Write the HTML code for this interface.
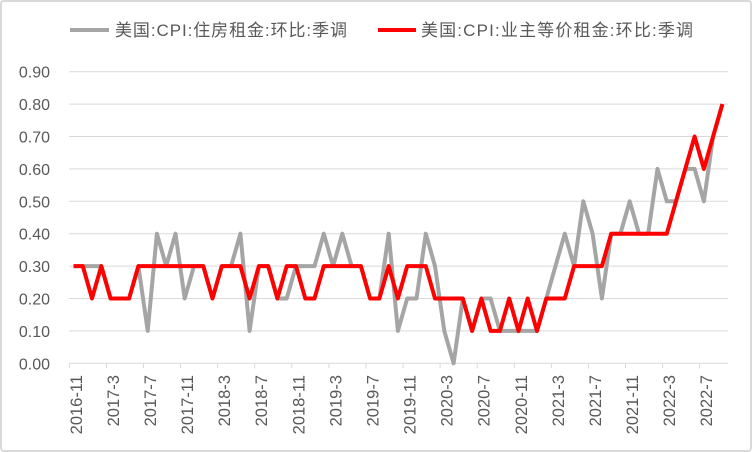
<!DOCTYPE html>
<html><head><meta charset="utf-8">
<style>
html,body{margin:0;padding:0;background:#fff;}
svg{display:block;font-family:"Liberation Sans","Noto Sans CJK SC",sans-serif;}
</style></head><body>
<svg id="c" width="752" height="452" viewBox="0 0 752 452" xmlns="http://www.w3.org/2000/svg">
<rect x="1" y="1" width="750" height="450" rx="3" fill="#fff" stroke="#d9d9d9" stroke-width="2"/>
<g id="grid"></g>
<g id="lab" fill="#595959" font-size="16"></g>
<line x1="70" y1="30" x2="109" y2="30" stroke="#a5a5a5" stroke-width="4"/>
<text x="115" y="36" font-size="17" fill="#595959" textLength="232" lengthAdjust="spacing">美国:CPI:住房租金:环比:季调</text>
<line x1="378" y1="30" x2="416" y2="30" stroke="#ff0000" stroke-width="4"/>
<text x="421" y="36" font-size="17" fill="#595959" textLength="272" lengthAdjust="spacing">美国:CPI:业主等价租金:环比:季调</text>
<polyline id="g" fill="none" stroke="#a5a5a5" stroke-width="4" stroke-linejoin="round"/>
<polyline id="r" fill="none" stroke="#ff0000" stroke-width="4" stroke-linejoin="round"/>
</svg>
<script>
var gray=[3,3,3,3,2,2,2,3,1,4,3,4,2,3,3,2,3,3,4,1,3,3,2,2,3,3,3,4,3,4,3,3,2,2,4,1,2,2,4,3,1,0,2,1,2,2,1,1,1,1,1,2,3,4,3,5,4,2,4,4,5,4,4,6,5,5,6,6,5,7,8];
var red=[3,3,2,3,2,2,2,3,3,3,3,3,3,3,3,2,3,3,3,2,3,3,2,3,3,2,2,3,3,3,3,3,2,2,3,2,3,3,3,2,2,2,2,1,2,1,1,2,1,2,1,2,2,2,3,3,3,3,4,4,4,4,4,4,4,5,6,7,6,7,8];
var x0=73.5,dx=9.27,y0=363.3,dy=32.4;
function X(i){return x0+dx*i}function Y(v){return y0-dy*v}
function pts(a){return a.map(function(v,i){return X(i).toFixed(1)+","+Y(v).toFixed(1)}).join(" ")}
document.getElementById("g").setAttribute("points",pts(gray));
document.getElementById("r").setAttribute("points",pts(red));
var ns="http://www.w3.org/2000/svg",grid=document.getElementById("grid"),lab=document.getElementById("lab");
for(var k=0;k<=9;k++){
 var y=Y(k);
 if(k>0){var l=document.createElementNS(ns,"line");l.setAttribute("x1",69);l.setAttribute("x2",728);l.setAttribute("y1",y);l.setAttribute("y2",y);l.setAttribute("stroke","#d9d9d9");grid.appendChild(l);}
 var t=document.createElementNS(ns,"text");t.setAttribute("x",50);t.setAttribute("y",y+6);t.setAttribute("text-anchor","end");t.textContent=(k/10).toFixed(2);lab.appendChild(t);
}
var ax=document.createElementNS(ns,"line");ax.setAttribute("x1",69);ax.setAttribute("x2",728);ax.setAttribute("y1",y0);ax.setAttribute("y2",y0);ax.setAttribute("stroke","#d9d9d9");grid.appendChild(ax);
var names=["2016-11","2017-3","2017-7","2017-11","2018-3","2018-7","2018-11","2019-3","2019-7","2019-11","2020-3","2020-7","2020-11","2021-3","2021-7","2021-11","2022-3","2022-7"];
for(var j=0;j<names.length;j++){
 var tx=69.3+dx*4*j;
 var tk=document.createElementNS(ns,"line");tk.setAttribute("x1",tx);tk.setAttribute("x2",tx);tk.setAttribute("y1",y0);tk.setAttribute("y2",y0+5);tk.setAttribute("stroke","#d9d9d9");grid.appendChild(tk);
 var t=document.createElementNS(ns,"text");var cx=tx+12.5,cy=375;
 t.setAttribute("x",cx);t.setAttribute("y",cy);t.setAttribute("text-anchor","end");t.setAttribute("font-size","16.5");
 t.setAttribute("transform","rotate(-90 "+cx+" "+cy+")");t.textContent=names[j];lab.appendChild(t);
}
</script>
</body></html>
